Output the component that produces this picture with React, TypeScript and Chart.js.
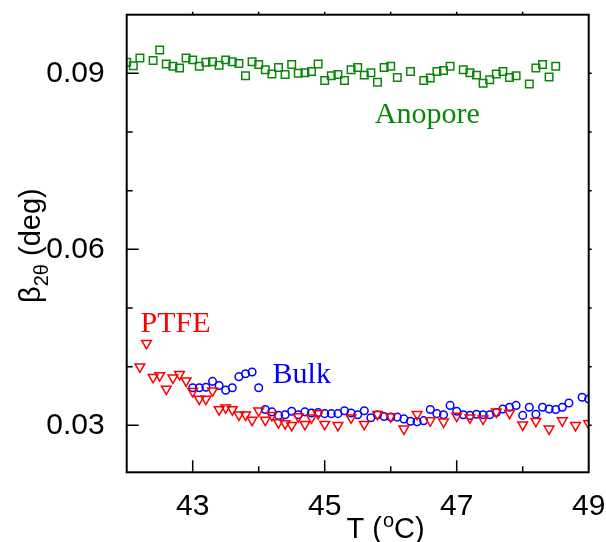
import React, { useEffect, useRef } from 'react';
import { Chart, registerables } from 'chart.js';

Chart.register(...registerables);

// ---- data (T in °C, beta in deg) ----
const anoporeT = [42.0, 42.1, 42.2, 42.4, 42.5, 42.6, 42.7, 42.8, 42.9, 43.0, 43.1, 43.2, 43.3, 43.4, 43.5, 43.6, 43.7, 43.8, 43.9, 44.0, 44.1, 44.2, 44.3, 44.4, 44.5, 44.6, 44.7, 44.8, 44.9, 45.0, 45.1, 45.2, 45.3, 45.4, 45.5, 45.6, 45.7, 45.8, 45.9, 46.0, 46.1, 46.3, 46.5, 46.6, 46.7, 46.8, 46.9, 47.1, 47.2, 47.3, 47.4, 47.5, 47.6, 47.7, 47.8, 47.9, 48.1, 48.2, 48.3, 48.4, 48.5];
const anoporeB = [0.0919, 0.0913, 0.0926, 0.0922, 0.0940, 0.0916, 0.0912, 0.0909, 0.0926, 0.0923, 0.0912, 0.0919, 0.0920, 0.0914, 0.0923, 0.0920, 0.0917, 0.0896, 0.0920, 0.0915, 0.0906, 0.0899, 0.0910, 0.0898, 0.0915, 0.0900, 0.0901, 0.0903, 0.0916, 0.0888, 0.0896, 0.0898, 0.0888, 0.0906, 0.0910, 0.0897, 0.0901, 0.0885, 0.0910, 0.0912, 0.0893, 0.0903, 0.0888, 0.0892, 0.0903, 0.0905, 0.0912, 0.0906, 0.0901, 0.0897, 0.0883, 0.0889, 0.0899, 0.0903, 0.0893, 0.0896, 0.0882, 0.0909, 0.0915, 0.0894, 0.0912];

const ptfeT = [42.2, 42.3, 42.4, 42.5, 42.6, 42.7, 42.8, 42.9, 43.0, 43.1, 43.2, 43.3, 43.4, 43.5, 43.6, 43.7, 43.8, 43.9, 44.0, 44.1, 44.2, 44.3, 44.4, 44.5, 44.6, 44.7, 44.8, 44.9, 45.0, 45.2, 45.4, 45.6, 45.8, 46.0, 46.2, 46.4, 46.6, 46.8, 47.0, 47.2, 47.4, 47.6, 47.8, 48.0, 48.2, 48.4, 48.6, 48.8, 49.0];
const ptfeB = [0.0400, 0.0440, 0.0382, 0.0385, 0.0362, 0.0381, 0.0387, 0.0376, 0.0358, 0.0345, 0.0345, 0.0359, 0.0327, 0.0330, 0.0327, 0.0318, 0.0318, 0.0309, 0.0325, 0.0309, 0.0317, 0.0305, 0.0303, 0.0300, 0.0315, 0.0302, 0.0313, 0.0320, 0.0302, 0.0300, 0.0313, 0.0302, 0.0319, 0.0315, 0.0294, 0.0319, 0.0308, 0.0306, 0.0316, 0.0313, 0.0311, 0.0323, 0.0321, 0.0301, 0.0307, 0.0294, 0.0308, 0.0300, 0.0303];

const bulkT = [43.0, 43.1, 43.2, 43.3, 43.4, 43.5, 43.6, 43.7, 43.8, 43.9, 44.0, 44.1, 44.2, 44.3, 44.4, 44.5, 44.6, 44.7, 44.8, 44.9, 45.0, 45.1, 45.2, 45.3, 45.4, 45.5, 45.6, 45.7, 45.8, 45.9, 46.0, 46.1, 46.2, 46.3, 46.4, 46.5, 46.6, 46.7, 46.8, 46.9, 47.0, 47.1, 47.2, 47.3, 47.4, 47.5, 47.6, 47.7, 47.8, 47.9, 48.0, 48.1, 48.2, 48.3, 48.4, 48.5, 48.6, 48.7, 48.9, 49.0];
const bulkB = [0.0364, 0.0364, 0.0365, 0.0375, 0.0368, 0.0360, 0.0364, 0.0383, 0.0388, 0.0391, 0.0364, 0.0327, 0.0323, 0.0317, 0.0318, 0.0324, 0.0318, 0.0323, 0.0321, 0.0322, 0.0320, 0.0320, 0.0320, 0.0325, 0.0321, 0.0318, 0.0325, 0.0313, 0.0318, 0.0315, 0.0314, 0.0314, 0.0311, 0.0307, 0.0306, 0.0308, 0.0327, 0.0320, 0.0318, 0.0334, 0.0324, 0.0318, 0.0317, 0.0319, 0.0318, 0.0318, 0.0322, 0.0328, 0.0331, 0.0334, 0.0317, 0.0331, 0.0319, 0.0331, 0.0328, 0.0327, 0.0331, 0.0338, 0.0348, 0.0345];

// ---- axes ----
const xMin = 42;
const xMax = 49;
const yMin = 0.022;
const yMax = 0.1;
const xTickLabels = [43, 45, 47, 49];
const xMinorTicks = [44, 46, 48];
const yTickLabels = [0.03, 0.06, 0.09];
const yMinorTicks = [0.04, 0.05, 0.07, 0.08];

// series labels placed in data coordinates (left edge, baseline)
const seriesLabels = [
  { text: 'Anopore', x: 45.76, y: 0.0815, color: '#0a870a' },
  { text: 'PTFE', x: 42.21, y: 0.0459, color: '#ff0000' },
  { text: 'Bulk', x: 44.21, y: 0.0373, color: '#0000ff' },
];

const SANS = '"Liberation Sans", Arial, Helvetica, sans-serif';
const SERIF = '"Liberation Serif", "Times New Roman", serif';

const zip = (xs: number[], ys: number[]) => xs.map((x, i) => ({ x, y: ys[i] }));

const decorPlugin = {
  id: 'decor',
  afterDraw(chart: any) {
    const { ctx, chartArea: a, scales } = chart;
    const xs = scales.x;
    const ys = scales.y;
    ctx.save();
    ctx.strokeStyle = '#000';
    ctx.lineWidth = 2;
    ctx.strokeRect(a.left, a.top, a.right - a.left, a.bottom - a.top);

    ctx.lineWidth = 1.5;
    const vtick = (v: number, len: number) => {
      const px = xs.getPixelForValue(v);
      ctx.beginPath();
      ctx.moveTo(px, a.bottom);
      ctx.lineTo(px, a.bottom - len);
      ctx.moveTo(px, a.top);
      ctx.lineTo(px, a.top - 3);
      ctx.stroke();
    };
    const htick = (v: number, len: number) => {
      const py = ys.getPixelForValue(v);
      ctx.beginPath();
      ctx.moveTo(a.left, py);
      ctx.lineTo(a.left + len, py);
      ctx.moveTo(a.right, py);
      ctx.lineTo(a.right + 3, py);
      ctx.stroke();
    };
    xTickLabels.filter((v) => v < xMax).forEach((v) => vtick(v, 12));
    xMinorTicks.forEach((v) => vtick(v, 6));
    yTickLabels.forEach((v) => htick(v, 12));
    yMinorTicks.forEach((v) => htick(v, 6));

    // series labels
    ctx.textBaseline = 'alphabetic';
    ctx.textAlign = 'left';
    ctx.font = `30px ${SERIF}`;
    seriesLabels.forEach((l) => {
      ctx.fillStyle = l.color;
      ctx.fillText(l.text, xs.getPixelForValue(l.x), ys.getPixelForValue(l.y));
    });

    // x axis title: T (°C) with superscript o
    ctx.fillStyle = '#000';
    const big = `29px ${SANS}`;
    const small = `20px ${SANS}`;
    let cx = 346.5;
    const by = 538;
    ctx.font = big;
    ctx.fillText('T (', cx, by);
    cx += ctx.measureText('T (').width;
    ctx.font = small;
    ctx.fillText('o', cx + 1, by - 11);
    cx += ctx.measureText('o').width + 1;
    ctx.font = big;
    ctx.fillText('C)', cx, by);

    // y axis title: β_{2θ} (deg), rotated
    ctx.translate(40, 303);
    ctx.rotate(-Math.PI / 2);
    let tx = 0;
    ctx.font = big;
    ctx.fillText('\u03B2', tx, 0);
    tx += ctx.measureText('\u03B2').width;
    ctx.font = small;
    ctx.fillText('2\u03B8', tx, 8);
    tx += ctx.measureText('2\u03B8').width;
    ctx.font = big;
    ctx.fillText(' (deg)', tx, 0);
    ctx.restore();
  },
};

export default function App() {
  const ref = useRef<HTMLCanvasElement | null>(null);
  useEffect(() => {
    if (!ref.current) return;
    const chart = new Chart(ref.current, {
      type: 'scatter',
      data: {
        datasets: [
          {
            label: 'PTFE',
            data: zip(ptfeT, ptfeB),
            pointStyle: 'triangle',
            rotation: 180,
            radius: 5.6,
            borderColor: '#ff0000',
            backgroundColor: 'rgba(0,0,0,0)',
            borderWidth: 1.5,
            clip: 0,
          } as any,
          {
            label: 'Bulk',
            data: zip(bulkT, bulkB),
            pointStyle: 'circle',
            radius: 3.8,
            borderColor: '#0000ff',
            backgroundColor: 'rgba(0,0,0,0)',
            borderWidth: 1.5,
            clip: 0,
          } as any,
          {
            label: 'Anopore',
            data: zip(anoporeT, anoporeB),
            pointStyle: 'rect',
            radius: 5.3,
            borderColor: '#0a870a',
            backgroundColor: 'rgba(0,0,0,0)',
            borderWidth: 1.5,
            clip: 0,
          } as any,
        ],
      },
      options: {
        animation: false,
        responsive: false,
        devicePixelRatio: 1,
        layout: { padding: { left: 0, top: 14.7, right: 17.3, bottom: 0 } },
        plugins: { legend: { display: false }, tooltip: { enabled: false } },
        scales: {
          x: {
            type: 'linear',
            min: xMin,
            max: xMax,
            grid: { display: false },
            border: { display: false },
            afterBuildTicks: (s: any) => {
              s.ticks = xTickLabels.map((v) => ({ value: v }));
            },
            afterFit: (s: any) => {
              s.height = 69.7;
              s.paddingLeft = 0;
              s.paddingRight = 0;
            },
            ticks: {
              color: '#000',
              font: { family: SANS, size: 30 },
              padding: 8,
              maxRotation: 0,
              autoSkip: false,
              callback: (v: any) => String(v),
            },
          },
          y: {
            type: 'linear',
            min: yMin,
            max: yMax,
            grid: { display: false },
            border: { display: false },
            afterBuildTicks: (s: any) => {
              s.ticks = yTickLabels.map((v) => ({ value: v }));
            },
            afterFit: (s: any) => {
              s.width = 126.7;
              s.paddingTop = 0;
              s.paddingBottom = 0;
            },
            ticks: {
              color: '#000',
              font: { family: SANS, size: 30 },
              padding: 14,
              autoSkip: false,
              callback: (v: any) => Number(v).toFixed(2),
            },
          },
        },
      } as any,
      plugins: [decorPlugin],
    });
    return () => chart.destroy();
  }, []);

  return (
    <div style={{ position: 'absolute', left: 0, top: 0, width: 606, height: 542, background: '#fff' }}>
      <canvas ref={ref} width={606} height={542} style={{ display: 'block', width: 606, height: 542 }} />
    </div>
  );
}
